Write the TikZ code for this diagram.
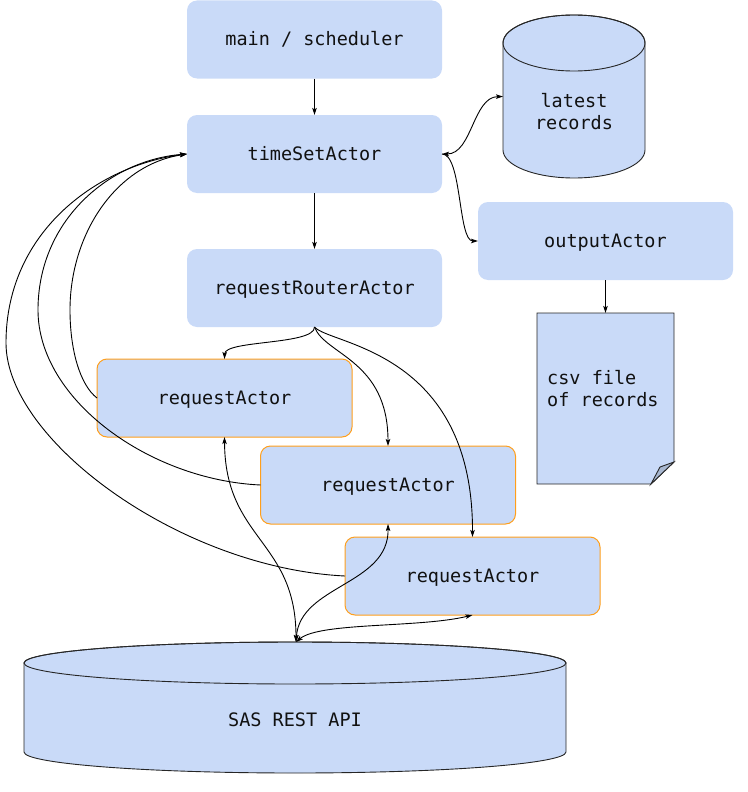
\documentclass[tikz,border=0pt]{standalone}
\usepackage{fontspec}
\setmonofont{DejaVu Sans Mono}
\usetikzlibrary{arrows.meta}
\definecolor{boxblue}{HTML}{C9DAF8}
\definecolor{foldblue}{HTML}{A8B7D0}
\definecolor{ordge}{HTML}{FF9F1C}
\definecolor{txtc}{HTML}{111111}
\tikzset{
  lbl/.style={font=\ttfamily\fontsize{18.5}{22}\selectfont, text=txtc},
  bluebox/.style={lbl, rectangle, rounded corners=10pt, fill=boxblue, minimum width=255pt, minimum height=78pt, inner sep=0pt, outer sep=0pt, text depth=0pt, text height=13pt},
  actorbox/.style={bluebox, draw=ordge, line width=1pt},
  anchorbox/.style={rectangle, inner sep=0pt, outer sep=0pt},
  conn/.style={line width=0.9pt, black, -{Stealth[length=7pt,width=4.5pt,inset=1.5pt]}},
  dconn/.style={line width=0.9pt, black, {Stealth[length=7pt,width=4.5pt,inset=1.5pt]}-{Stealth[length=7pt,width=4.5pt,inset=1.5pt]}},
  shapeline/.style={line width=0.9pt, draw=black!85, fill=boxblue},
}
\begin{document}
\begin{tikzpicture}[x=1pt,y=1pt]
\useasboundingbox (0,0) rectangle (747,-792);

% latest records cylinder
\path[shapeline] (503,-43) -- (503,-150) arc[start angle=180,end angle=360,x radius=71,y radius=28] -- (645,-43) arc[start angle=0,end angle=180,x radius=71,y radius=28] -- cycle;
\draw[line width=0.9pt, black!85] (574,-43) ellipse[x radius=71,y radius=28];
\node[anchorbox, minimum width=142pt, minimum height=163pt] (lr) at (574,-96.5) {};
\node[lbl, align=center] (lrt) at (574,-112) {latest\\records};

% SAS REST API cylinder
\path[shapeline] (24,-663) -- (24,-752) arc[start angle=180,end angle=360,x radius=271,y radius=21] -- (566,-663) arc[start angle=0,end angle=180,x radius=271,y radius=21] -- cycle;
\draw[line width=0.9pt, black!85] (295,-663) ellipse[x radius=271,y radius=21];
\node[anchorbox, minimum width=542pt, minimum height=131pt] (api) at (295,-707.5) {};
\node[lbl] (apit) at (295,-720) {SAS REST API};

% csv document
\node[anchorbox, minimum width=137pt, minimum height=171pt] (csv) at (605.5,-398.5) {};
\path[shapeline] (csv.north west) -- (csv.north east) -- (674,-462) -- (651,-484) -- (csv.south west) -- cycle;
\path[line width=0.9pt, draw=black!85, fill=foldblue] (674,-462) -- (660,-467) -- (651,-484) -- cycle;
\node[lbl, align=left, anchor=west, inner sep=0pt] (csvt) at (547,-389) {csv file\\of records};

% boxes
\node[bluebox] (main) at (314.5,-39.5) {main / scheduler};
\node[bluebox] (ts) at (314.5,-154) {timeSetActor};
\node[bluebox] (rr) at (314.5,-288) {requestRouterActor};
\node[bluebox] (out) at (605.5,-241) {outputActor};
\node[actorbox] (ra1) at (224.5,-398) {requestActor};
\node[actorbox] (ra2) at (388,-485) {requestActor};
\node[actorbox] (ra3) at (472.5,-576) {requestActor};

% connectors
\draw[conn] (main.south) -- (ts.north);
\draw[conn] (ts.south) -- (rr.north);
\draw[dconn] (ts.east) .. controls (472,-154) and (473,-97) .. (lr.west);
\draw[conn] (ts.east) .. controls (462,-154) and (458,-241) .. (out.west);
\draw[conn] (out.south) -- (csv.north);

\draw[conn] (rr.south) .. controls (315,-345) and (225,-340) .. (ra1.north);
\draw[conn] (rr.south) .. controls (325,-355) and (388,-360) .. (ra2.north);
\draw[conn] (rr.south) .. controls (330,-345) and (473,-350) .. (ra3.north);

\draw[conn] (ra1.west) .. controls (80,-385) and (70,-350) .. (70,-310) .. controls (70,-235) and (115,-165) .. (ts.west);
\draw[conn] (ra2.west) .. controls (150,-480) and (38,-400) .. (38,-310) .. controls (38,-220) and (110,-160) .. (ts.west);
\draw[conn] (ra3.west) .. controls (180,-568) and (6,-440) .. (6,-343) .. controls (6,-230) and (100,-165) .. (ts.west);

\draw[dconn] (ra1.south) .. controls (225,-540) and (296,-540) .. (296,-642);
\draw[dconn] (ra2.south) .. controls (389,-585) and (300,-585) .. (296,-642);
\draw[dconn] (ra3.south) .. controls (420,-628) and (320,-622) .. (296,-642);
\end{tikzpicture}
\end{document}
